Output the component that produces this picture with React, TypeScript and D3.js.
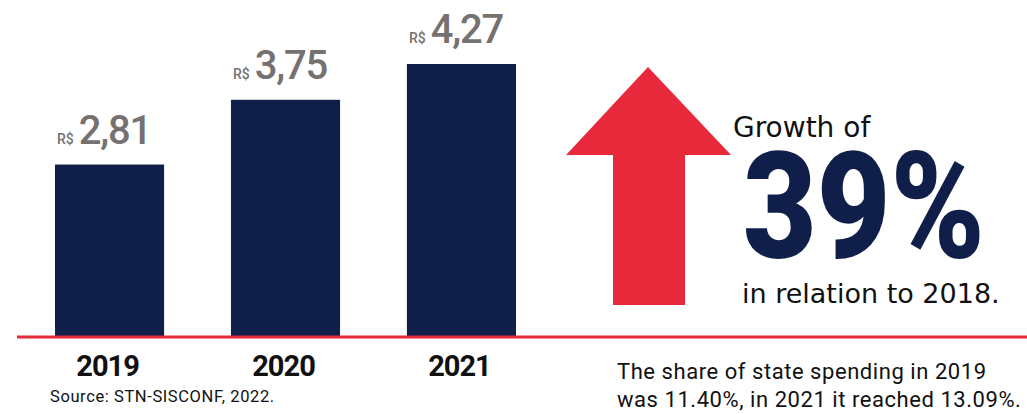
import React from "react";
import * as d3 from "d3";

const years: string[] = ["2019", "2020", "2021"];
const values: number[] = [2.81, 3.75, 4.27];
const valueLabels: string[] = ["2,81", "3,75", "4,27"];
const currency = "R$";
const growthTitle = "Growth of";
const growthValue = "39%";
const growthNote = "in relation to 2018.";
const sourceText = "Source: STN-SISCONF, 2022.";
const shareLines: string[] = [
  "The share of state spending in 2019",
  "was 11.40%, in 2021 it reached 13.09%.",
];

const W = 1027;
const H = 414;
const NAVY = "#0f1f4a";
const RED = "#e8293b";
const GRAY = "#767171";
const BASE = 336;

export default function App() {
  const x = d3.scaleBand<string>().domain(years).range([55, 516]).paddingInner(0.38).paddingOuter(0);
  const y = d3.scaleLinear().domain([0.32, 4.27]).range([BASE, 64]);

  const arrow = d3.path();
  arrow.moveTo(648, 67);
  arrow.lineTo(731, 155);
  arrow.lineTo(685, 155);
  arrow.lineTo(685, 305);
  arrow.lineTo(613, 305);
  arrow.lineTo(613, 155);
  arrow.lineTo(566, 155);
  arrow.closePath();

  return (
    <div style={{ position: "absolute", left: 0, top: 0, width: W, height: H, background: "#fff" }}>
      <svg width={W} height={H} style={{ display: "block" }}>
        <rect width={W} height={H} fill="#fff" />
        {years.map((yr, i) => {
          const bx = x(yr)!;
          const top = y(values[i]);
          return (
            <g key={yr}>
              <rect x={bx} y={top} width={x.bandwidth()} height={BASE - top} fill={NAVY} />
              <text x={bx + 2} y={top - 21} fill={GRAY} fontFamily="Roboto, sans-serif">
                <tspan fontSize={14} fontWeight={500}>{currency}</tspan>
                <tspan dx={5} fontSize={40} fontWeight={500} letterSpacing={-1.2}>{valueLabels[i]}</tspan>
              </text>
              <text
                x={bx + x.bandwidth() / 2 - 2}
                y={376}
                textAnchor="middle"
                fontFamily="Roboto, sans-serif"
                fontWeight={700}
                fontSize={29}
                letterSpacing={-1}
                fill="#111"
              >
                {yr}
              </text>
            </g>
          );
        })}
        <line x1={17} x2={W} y1={337} y2={337} stroke={RED} strokeWidth={3} />
        <path d={arrow.toString()} fill={RED} />
        <text x={733} y={137} fontFamily="DejaVu Sans, sans-serif" fontSize={28} fill="#111">
          {growthTitle}
        </text>
        <text
          x={743}
          y={258}
          fontFamily="Roboto, sans-serif"
          fontWeight={900}
          fontSize={148}
          fill={NAVY}
          textLength={242}
          lengthAdjust="spacingAndGlyphs"
        >
          {growthValue}
        </text>
        <text x={742} y={303} fontFamily="DejaVu Sans, sans-serif" fontSize={27} fill="#111">
          {growthNote}
        </text>
        <text x={50} y={402} fontFamily="Roboto, sans-serif" fontSize={16.5} letterSpacing={0.6} fill="#111">
          {sourceText}
        </text>
        {shareLines.map((ln, i) => (
          <text
            key={i}
            x={617}
            y={379 + i * 28}
            fontFamily="Roboto, sans-serif"
            fontSize={22}
            letterSpacing={0.55}
            fill="#111"
          >
            {ln}
          </text>
        ))}
      </svg>
    </div>
  );
}
